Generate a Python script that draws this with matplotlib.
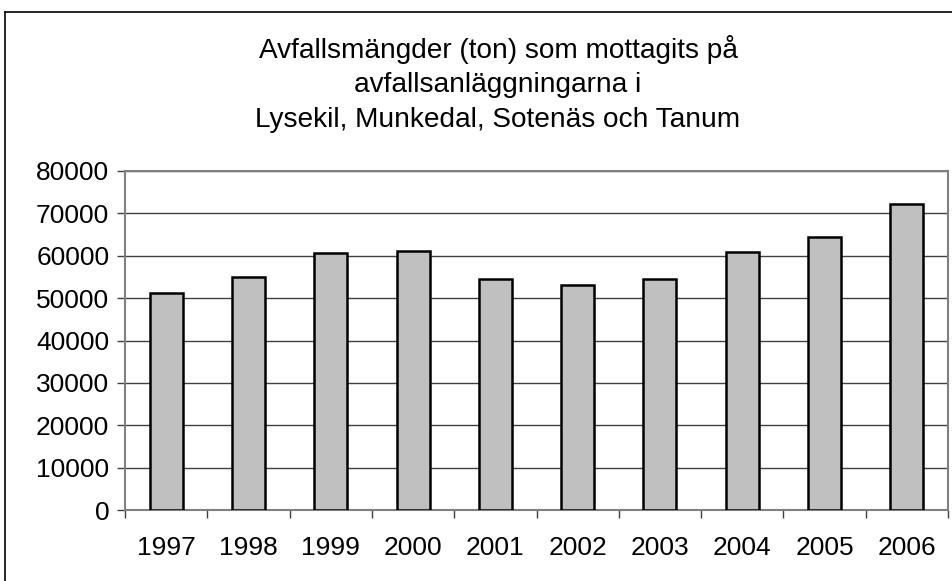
import matplotlib
matplotlib.use('Agg')
import matplotlib.pyplot as plt
from matplotlib.lines import Line2D

plt.rcParams['font.family'] = ['Liberation Sans', 'DejaVu Sans']

years = ['1997', '1998', '1999', '2000', '2001', '2002', '2003', '2004', '2005', '2006']
tons = [51200, 55000, 60550, 61200, 54500, 53000, 54500, 60950, 64500, 72150]
title_lines = ['Avfallsmängder (ton) som mottagits på',
               'avfallsanläggningarna i',
               'Lysekil, Munkedal, Sotenäs och Tanum']
yticks = list(range(0, 80001, 10000))

W, H = 953, 581
fig = plt.figure(figsize=(W / 100, H / 100), dpi=100)
ax = fig.add_axes([125 / W, 1 - 510 / H, (948 - 125) / W, (510 - 171) / H])

# outer chart frame (only top and left visible)
fig.add_artist(Line2D([5 / W, 1.0], [1 - 12 / H, 1 - 12 / H], color='black', lw=1.2))
fig.add_artist(Line2D([5 / W, 5 / W], [1 - 12 / H, 0.0], color='black', lw=1.2))

# title, three lines
for i, line in enumerate(title_lines):
    fig.text(498 / W, 1 - (57.5 + 34.6 * i) / H, line, ha='center', va='baseline', fontsize=20.2)

x = list(range(len(years)))
ax.set_axisbelow(True)
ax.yaxis.grid(True, color='#404040', lw=1.0)
ax.bar(x, tons, width=0.4, color='#C0C0C0', edgecolor='black', linewidth=1.8, zorder=3)

ax.set_xlim(-0.5, len(years) - 0.5)
ax.set_ylim(0, 80000)
ax.set_yticks(yticks)
ax.set_yticklabels([str(v) for v in yticks])
ax.set_xticks([i - 0.5 for i in range(len(years) + 1)])
ax.set_xticklabels([])
ax.set_xticks(x, minor=True)
ax.set_xticklabels(years, minor=True)
ax.tick_params(axis='x', which='minor', length=0, pad=19, labelsize=19)
ax.tick_params(axis='x', which='major', length=6, width=1, color='#404040')
ax.tick_params(axis='y', length=6, width=1, color='#404040', pad=5.3, labelsize=19)

for s in ax.spines.values():
    s.set_color('#808080')
    s.set_linewidth(1.5)

fig.savefig('out.png', dpi=100)
